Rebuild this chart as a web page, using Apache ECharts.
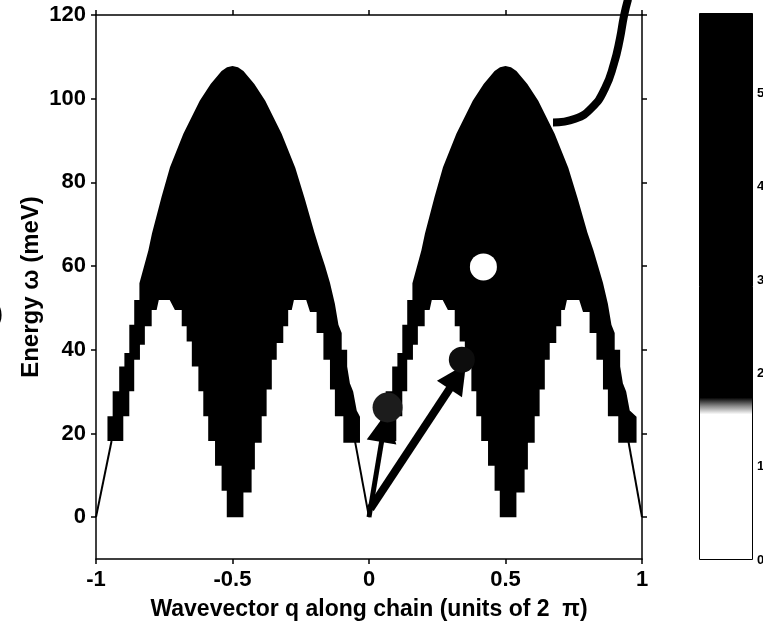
<!DOCTYPE html>
<html>
<head>
<meta charset="utf-8">
<script src="https://cdn.jsdelivr.net/npm/echarts@6.0.0/dist/echarts.min.js"></script>
<style>
  html, body { margin: 0; padding: 0; background: #fff; }
  #chart { width: 763px; height: 626px; }
</style>
</head>
<body>
<div id="chart"></div>
<script>
// tick values
const qTicks = [-1, -0.5, 0, 0.5, 1];
const energyTicks = [0, 20, 40, 60, 80, 100, 120];
const colorbarTicks = [0, 1, 2, 3, 4, 5];
const colorbarMax = 5.86;
const colorbarEdge = [1.56, 1.74]; // white below first, black above second

// outer edge of the two-spinon continuum [q, meV]
const upperEdge = [
  [-1, 0], [-0.958, 0], [-0.958, 24.1], [-0.939, 24.1], [-0.939, 30.1], [-0.915, 30.1],
  [-0.915, 36], [-0.896, 36], [-0.896, 39.2], [-0.878, 39.2], [-0.878, 46], [-0.86, 46],
  [-0.86, 51.9], [-0.841, 51.9], [-0.841, 55.9], [-0.808, 63.8], [-0.795, 67.8], [-0.76, 76.5],
  [-0.729, 83.6], [-0.68, 91.6], [-0.62, 99.5], [-0.58, 103.5], [-0.54, 106.6], [-0.52, 107.5],
  [-0.5, 107.8], [-0.48, 107.5], [-0.46, 106.6], [-0.42, 103.5], [-0.38, 99.5], [-0.32, 91.6],
  [-0.27, 83.5], [-0.235, 76], [-0.2, 68], [-0.18, 63.8], [-0.161, 60], [-0.143, 56],
  [-0.125, 51], [-0.112, 46], [-0.1, 44], [-0.1, 40], [-0.08, 40], [-0.08, 36], [-0.07, 32],
  [-0.058, 30], [-0.045, 25.5], [-0.033, 24], [-0.033, 0],
  [0.042, 0], [0.042, 24.1], [0.061, 24.1], [0.061, 30.1], [0.085, 30.1], [0.085, 36],
  [0.104, 36], [0.104, 39.2], [0.122, 39.2], [0.122, 46], [0.14, 46], [0.14, 51.9],
  [0.159, 51.9], [0.159, 55.9], [0.192, 63.8], [0.205, 67.8], [0.24, 76.5], [0.271, 83.6],
  [0.32, 91.6], [0.38, 99.5], [0.42, 103.5], [0.46, 106.6], [0.48, 107.5], [0.5, 107.8],
  [0.52, 107.5], [0.54, 106.6], [0.58, 103.5], [0.62, 99.5], [0.68, 91.6], [0.73, 83.5],
  [0.765, 76], [0.8, 68], [0.822, 63.8], [0.839, 60], [0.857, 56], [0.875, 51], [0.888, 46],
  [0.9, 44], [0.9, 40], [0.92, 40], [0.92, 36], [0.93, 32], [0.942, 30], [0.955, 25.5],
  [0.98, 24], [0.98, 0], [1, 0]
];

// empty pockets below the lower edge [q, meV]
const holeLeftA = [
  [-1, 18.2], [-0.9, 18.2], [-0.9, 24.1], [-0.878, 24.1], [-0.878, 30.1], [-0.86, 30.1],
  [-0.86, 37.6], [-0.839, 37.6], [-0.839, 41.2], [-0.821, 41.2], [-0.821, 45.6], [-0.796, 45.6],
  [-0.796, 49.5], [-0.778, 49.5], [-0.77, 51.9], [-0.73, 51.9], [-0.711, 49.5], [-0.686, 49.5],
  [-0.686, 45.6], [-0.668, 45.6], [-0.668, 42], [-0.649, 42], [-0.649, 36], [-0.625, 36],
  [-0.625, 30.1], [-0.607, 30.1], [-0.607, 24.1], [-0.589, 24.1], [-0.589, 18.2], [-0.564, 18.2],
  [-0.564, 12.3], [-0.54, 12.3], [-0.54, 6.3], [-0.521, 6.3], [-0.521, 0]
];
const holeLeftB = [
  [-0.46, 0], [-0.46, 5.9], [-0.43, 5.9], [-0.43, 11.4], [-0.418, 11.4], [-0.418, 17.8],
  [-0.393, 17.8], [-0.393, 24.1], [-0.375, 24.1], [-0.375, 30.5], [-0.356, 30.5], [-0.356, 37.6],
  [-0.338, 37.6], [-0.338, 41.6], [-0.314, 41.6], [-0.314, 45.6], [-0.296, 45.6], [-0.296, 49.5],
  [-0.283, 49.5], [-0.275, 51.9], [-0.23, 51.9], [-0.216, 49], [-0.192, 49], [-0.192, 44],
  [-0.167, 44], [-0.167, 37.6], [-0.143, 37.6], [-0.143, 30.5], [-0.125, 30.5], [-0.125, 24.1],
  [-0.094, 24.1], [-0.094, 17.8], [0.04, 17.8]
];
const holeRightA = [
  [0.035, 18.2], [0.1, 18.2], [0.1, 24.1], [0.122, 24.1], [0.122, 30.1], [0.14, 30.1],
  [0.14, 37.6], [0.161, 37.6], [0.161, 41.2], [0.179, 41.2], [0.179, 45.6], [0.204, 45.6],
  [0.204, 49.5], [0.222, 49.5], [0.23, 51.9], [0.27, 51.9], [0.289, 49.5], [0.314, 49.5],
  [0.314, 45.6], [0.332, 45.6], [0.332, 42], [0.351, 42], [0.351, 36], [0.375, 36],
  [0.375, 30.1], [0.393, 30.1], [0.393, 24.1], [0.411, 24.1], [0.411, 18.2], [0.436, 18.2],
  [0.436, 12.3], [0.46, 12.3], [0.46, 6.3], [0.479, 6.3], [0.479, 0]
];
const holeRightB = [
  [0.54, 0], [0.54, 5.9], [0.57, 5.9], [0.57, 11.4], [0.582, 11.4], [0.582, 17.8],
  [0.607, 17.8], [0.607, 24.1], [0.625, 24.1], [0.625, 30.5], [0.644, 30.5], [0.644, 37.6],
  [0.662, 37.6], [0.662, 41.6], [0.686, 41.6], [0.686, 45.6], [0.704, 45.6], [0.704, 49.5],
  [0.717, 49.5], [0.725, 51.9], [0.77, 51.9], [0.784, 49], [0.808, 49], [0.808, 44],
  [0.833, 44], [0.833, 37.6], [0.857, 37.6], [0.857, 30.5], [0.875, 30.5], [0.875, 24.1],
  [0.913, 24.1], [0.913, 17.8], [1, 17.8]
];

// thin low-energy branches
const edgeLines = [
  [[-1, 0], [-0.943, 18.2]],
  [[0, 0], [-0.052, 18.4]],
  [[0, 0], [0.05, 18.4]],
  [[1, 0], [0.95, 18.2]]
];

// thick curve leaving the plot at top right
const curveTrace = [
  [0.674, 94.3], [0.755, 95.2], [0.817, 97.9], [0.864, 102.4],
  [0.897, 108.3], [0.919, 114.3], [0.934, 119.8], [0.949, 123.8]
];

// p and q vectors, and the three dots
const arrowP = [[0, 0], [0.055, 21.5]];
const arrowQ = [[0.005, 2], [0.325, 33.6]];
const dots = [[0.068, 26.2], [0.34, 37.6], [0.419, 59.8]];

const font = "'Liberation Sans', Arial, sans-serif";
const serif = "'Liberation Serif', 'Times New Roman', serif";
const chart = echarts.init(document.getElementById('chart'));

const axisLine = { onZero: false, lineStyle: { color: '#000', width: 1.5 } };
const tickStyle = { color: '#000', width: 1.5 };
// white pockets fill down to the axis minimum so nothing shows through at 0
const holeSeries = (data) => ({
  type: 'line', data: data, symbol: 'none', z: 3,
  lineStyle: { width: 0 }, areaStyle: { color: '#fff', opacity: 1, origin: 'start' }
});

const option = {
  animation: false,
  backgroundColor: '#fff',
  grid: [
    { left: 96, right: 121, top: 15, bottom: 67, outerBoundsMode: 'none' },
    { left: 699, width: 54, top: 13, bottom: 66, outerBoundsMode: 'none' }
  ],
  xAxis: [
    {
      gridIndex: 0, type: 'value', min: -1, max: 1, interval: 0.5, position: 'bottom', z: 10,
      axisLine: axisLine, splitLine: { show: false },
      axisTick: { customValues: qTicks, length: 5, lineStyle: tickStyle },
      axisLabel: { customValues: qTicks, color: '#000', fontSize: 22, fontWeight: 'bold', fontFamily: font, margin: 10 },
      name: 'Wavevector q along chain (units of 2  \u03c0)',
      nameLocation: 'middle', nameGap: 39, nameMoveOverlap: false,
      nameTextStyle: { color: '#000', fontSize: 23, fontWeight: 'bold', fontFamily: font }
    },
    {
      gridIndex: 0, type: 'value', min: -1, max: 1, interval: 0.5, position: 'top', z: 10,
      axisLine: axisLine, splitLine: { show: false },
      axisTick: { customValues: qTicks, length: 5, lineStyle: tickStyle },
      axisLabel: { show: false }
    },
    { gridIndex: 1, type: 'category', data: ['scale'], show: false }
  ],
  yAxis: [
    {
      gridIndex: 0, type: 'value', min: -10, max: 120, position: 'left', z: 10,
      axisLine: axisLine, splitLine: { show: false },
      axisTick: { customValues: energyTicks, length: 5, lineStyle: tickStyle },
      axisLabel: { customValues: energyTicks, color: '#000', fontSize: 22, fontWeight: 'bold', fontFamily: font, margin: 10 },
      name: 'Energy \u03c9 (meV)', nameLocation: 'middle', nameGap: 53, nameMoveOverlap: false,
      nameTextStyle: { color: '#000', fontSize: 24, fontWeight: 'bold', fontFamily: font }
    },
    {
      gridIndex: 0, type: 'value', min: -10, max: 120, position: 'right', z: 10,
      axisLine: axisLine, splitLine: { show: false },
      axisTick: { customValues: energyTicks, length: 5, lineStyle: tickStyle },
      axisLabel: { show: false }
    },
    {
      gridIndex: 1, type: 'value', min: 0, max: colorbarMax, position: 'left', z: 10,
      axisLine: { onZero: false, lineStyle: { color: '#000', width: 1 } }, splitLine: { show: false },
      axisTick: { customValues: colorbarTicks, inside: true, length: 4, lineStyle: { color: '#000' } },
      axisLabel: { show: false }
    },
    {
      gridIndex: 1, type: 'value', min: 0, max: colorbarMax, position: 'right', z: 10,
      axisLine: { onZero: false, lineStyle: { color: '#000', width: 1 } }, splitLine: { show: false },
      axisTick: { customValues: colorbarTicks, inside: true, length: 4, lineStyle: { color: '#000' } },
      axisLabel: { customValues: colorbarTicks, color: '#000', fontSize: 13, fontWeight: 'bold', fontFamily: font, margin: 4 }
    }
  ],
  graphic: [
    { type: 'text', left: 311, top: 428, style: { text: 'p', fontSize: 66, fontFamily: serif, fill: '#000' } },
    { type: 'text', left: 435, top: 403, style: { text: 'q', fontSize: 66, fontFamily: serif, fill: '#000' } },
    { type: 'text', left: -6, top: 300, style: { text: ')', fontSize: 28, fontFamily: font, fill: '#000' } }
  ],
  series: [
    {
      type: 'line', data: upperEdge, symbol: 'none', z: 2,
      lineStyle: { width: 0 }, areaStyle: { color: '#000', opacity: 1 }
    },
    holeSeries(holeLeftA),
    holeSeries(holeLeftB),
    holeSeries(holeRightA),
    holeSeries(holeRightB),
    {
      type: 'lines', coordinateSystem: 'cartesian2d', z: 4,
      data: edgeLines.map((c) => ({ coords: c })),
      lineStyle: { color: '#000', width: 2, opacity: 1 }
    },
    {
      type: 'line', data: curveTrace, smooth: true, symbol: 'none', clip: false, z: 4,
      lineStyle: { color: '#000', width: 8 }
    },
    {
      type: 'lines', coordinateSystem: 'cartesian2d', z: 5,
      symbol: ['none', 'triangle'], symbolSize: 30,
      data: [
        { coords: arrowP, lineStyle: { width: 5 } },
        { coords: arrowQ, lineStyle: { width: 8 } }
      ],
      lineStyle: { color: '#000', opacity: 1 }
    },
    {
      type: 'scatter', data: dots, z: 6,
      symbolSize: (v, p) => [30, 26, 27][p.dataIndex],
      itemStyle: {
        color: (p) => ['#1c1c1c', '#0d0d0d', '#fff'][p.dataIndex],
        opacity: 1
      }
    },
    {
      type: 'bar', xAxisIndex: 2, yAxisIndex: 3, data: [colorbarMax], barWidth: '100%',
      itemStyle: {
        borderColor: '#000', borderWidth: 1,
        color: new echarts.graphic.LinearGradient(0, 0, 0, 1, [
          { offset: 0, color: '#000' },
          { offset: (colorbarMax - colorbarEdge[1]) / colorbarMax, color: '#000' },
          { offset: (colorbarMax - (colorbarEdge[0] + colorbarEdge[1]) / 2) / colorbarMax, color: '#888' },
          { offset: (colorbarMax - colorbarEdge[0]) / colorbarMax, color: '#fff' },
          { offset: 1, color: '#fff' }
        ])
      }
    }
  ]
};
chart.setOption(option);
</script>
</body>
</html>
